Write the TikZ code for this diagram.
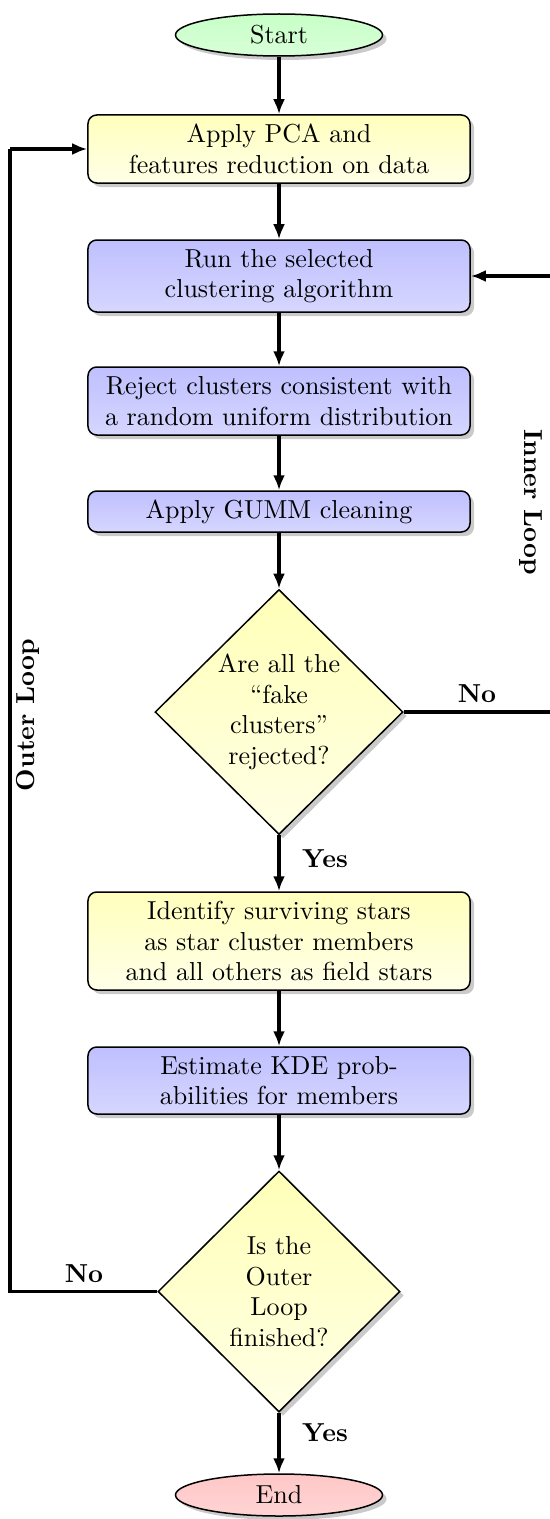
\documentclass[tikz,border=0pt]{standalone}
\usetikzlibrary{shapes.geometric,arrows.meta,shadows}
\begin{document}
\begin{tikzpicture}[x=0.4pt,y=-0.4pt,
  every node/.style={font=\fontsize{10.4}{12.2}\selectfont},
  shadowed/.style={drop shadow={shadow xshift=1.6pt,shadow yshift=-1.6pt,opacity=0.35,fill=black!60}},
  boxbase/.style={draw=black,line width=0.6pt,rounded corners=3.5pt,align=center,
     minimum width=152.8pt,inner sep=0pt,shadowed},
  yelbox/.style={boxbase,top color=yellow!26,bottom color=yellow!9},
  blubox/.style={boxbase,top color=blue!25,bottom color=blue!16},
  decide/.style={diamond,draw=black,line width=0.6pt,align=center,inner sep=0pt,
     top color=yellow!28,bottom color=yellow!10,shadowed},
  terminal/.style={ellipse,draw=black,line width=0.6pt,inner sep=0pt,
     minimum width=82.8pt,minimum height=16.8pt,shadowed},
  flow/.style={line width=1.25pt,-{Latex[length=6pt,width=4.8pt]}},
  plain/.style={line width=1.25pt},
  lbl/.style={font=\fontsize{10.4}{12.2}\selectfont\bfseries,inner sep=0pt}
]
\useasboundingbox (0,0) rectangle (549,1519);

\node[terminal,top color=green!22,bottom color=green!15] (start) at (279,35) {Start};
\node[yelbox,minimum height=27.2pt] (b1) at (279,149) {Apply PCA and\\features reduction on data};
\node[blubox,minimum height=28.8pt] (b2) at (279,276) {Run the selected\\clustering algorithm};
\node[blubox,minimum height=27.2pt] (b3) at (279,401) {Reject clusters consistent with\\a random uniform distribution};
\node[blubox,minimum height=16.4pt] (b4) at (279,511.5) {Apply GUMM cleaning};
\node[decide,minimum width=99.2pt,minimum height=98pt] (d1) at (279,712)
  {Are all the\\``fake\\clusters''\\rejected?};
\node[yelbox,minimum height=39.2pt] (b5) at (279,941) {Identify surviving stars\\as star cluster members\\and all others as field stars};
\node[blubox,minimum height=26.8pt] (b6) at (279,1080.5) {Estimate KDE prob-\\abilities for members};
\node[decide,minimum width=96.8pt,minimum height=96.4pt] (d2) at (279,1291.5)
  {Is the\\Outer\\Loop\\finished?};
\node[terminal,top color=red!22,bottom color=red!17] (end) at (279,1495) {End};

\draw[flow] (start) -- (b1);
\draw[flow] (b1) -- (b2);
\draw[flow] (b2) -- (b3);
\draw[flow] (b3) -- (b4);
\draw[flow] (b4) -- (d1);
\draw[flow] (d1) -- (b5);
\draw[flow] (b5) -- (b6);
\draw[flow] (b6) -- (d2);
\draw[flow] (d2) -- (end);

\coordinate (r1) at (562,712);
\coordinate (r2) at (562,276);
\draw[plain] (d1.east) -- (r1) -- (r2);
\draw[flow] (r2) -- (b2.east);

\coordinate (l1) at (10,1291.5);
\coordinate (l2) at (10,149);
\draw[plain] (d2.west) -- (l1) -- (l2);
\draw[flow] (l2) -- (b1.west);

\node[lbl] (no1) at (477,694) {No};
\node[lbl] (yes1) at (325,859) {Yes};
\node[lbl] (no2) at (84,1274) {No};
\node[lbl] (yes2) at (325,1433) {Yes};
\node[lbl,rotate=-90] (inner) at (531,502) {Inner Loop};
\node[lbl,rotate=90] (outer) at (28,715) {Outer Loop};
\end{tikzpicture}
\end{document}
